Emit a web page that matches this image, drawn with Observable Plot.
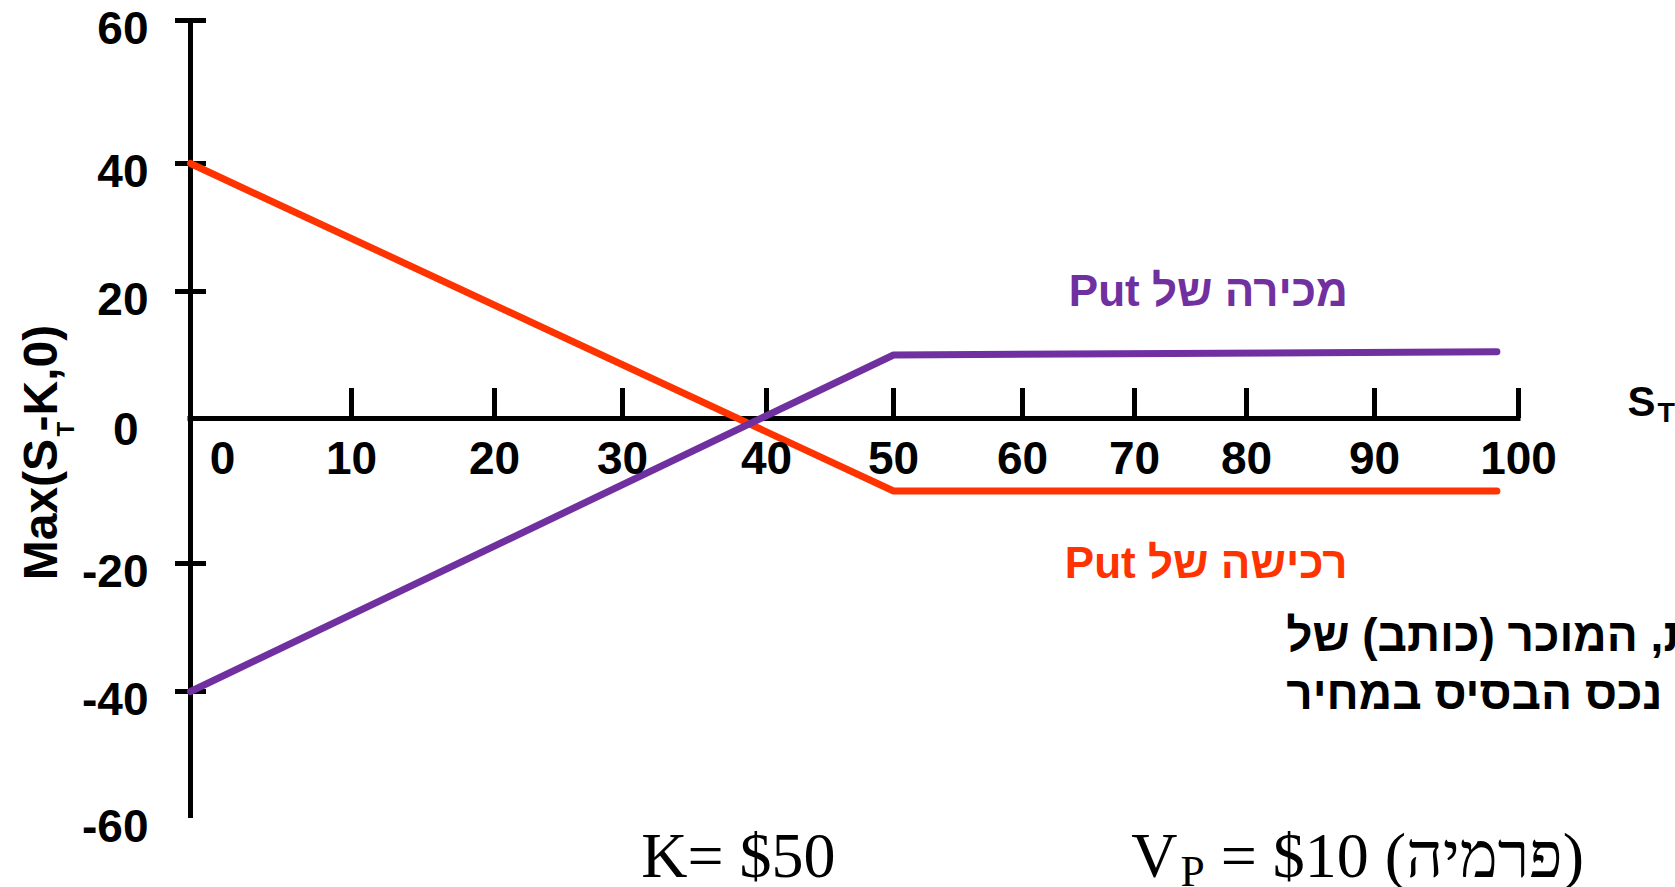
<!DOCTYPE html>
<html>
<head>
<meta charset="utf-8">
<script src="https://cdn.jsdelivr.net/npm/d3@7"></script>
<script src="https://cdn.jsdelivr.net/npm/@observablehq/plot@0.6"></script>
<style>
  html, body { margin: 0; padding: 0; background: #fff; overflow: hidden; }
  #chart svg { display: block; overflow: hidden; }
</style>
</head>
<body>
<div id="chart"></div>
<script>
// Price of the underlying at expiry (S_T) and payoff tick values
const priceTicks = [0, 10, 20, 30, 40, 50, 60, 70, 80, 90, 100];
const payoffTicks = [-60, -40, -20, 0, 20, 40, 60];
const payoffTickMarks = [60, 40, 20, -20, -40];

// Put option terms
const strike = 50;   // K
const premium = 10;  // V_P

// Long put (buyer) payoff
const longPutPrice = [0, 50, 98.5];
const longPutPayoff = [40, -10, -10];
// Short put (writer) payoff
const shortPutPrice = [0, 50, 98.5];
const shortPutPayoff = [-40, 10, 10.5];

const RED = "#FF3300";
const PURPLE = "#7030A0";
const SANS = "'Liberation Sans', Arial, sans-serif";
const SERIF = "'Liberation Serif', 'Times New Roman', serif";

const longPut = longPutPrice.map((s, i) => ({s, payoff: longPutPayoff[i]}));
const shortPut = shortPutPrice.map((s, i) => ({s, payoff: shortPutPayoff[i]}));

// The axes are hand-spaced: each tick value sits at its own position,
// so values are warped piecewise before the (pixel) linear scales.
const warpX = d3.scaleLinear(priceTicks, [190, 351, 494, 622, 766, 893, 1022, 1134, 1246, 1374, 1518]);
const warpY = d3.scaleLinear(payoffTicks, [818, 691, 563, 418, 291, 163, 20]);

const tickFont = {fontSize: 46, fontWeight: "bold", fill: "#000"};

const svg = Plot.plot({
  width: 1675,
  height: 887,
  marginLeft: 190,
  marginRight: 157,
  marginTop: 20,
  marginBottom: 69,
  style: {fontFamily: SANS, background: "#fff", color: "#000"},
  x: {axis: null, transform: warpX, domain: [0, 1675], range: [0, 1675]},
  y: {axis: null, transform: warpY, domain: [0, 887], range: [0, 887]},
  marks: [
    // axis lines
    Plot.ruleX([0], {y1: -60, y2: 60, stroke: "#000", strokeWidth: 5}),
    Plot.ruleY([0], {x1: 0, x2: 100, stroke: "#000", strokeWidth: 5, strokeLinecap: "square"}),
    // x ticks point upward from the axis
    Plot.ruleX(priceTicks.filter(d => d > 0), {x: d => d, y1: 0, y2: 0, insetTop: -30, stroke: "#000", strokeWidth: 5}),
    // y ticks straddle the axis
    Plot.ruleY(payoffTickMarks, {y: d => d, x1: 0, x2: 0, insetLeft: -15, insetRight: -16, stroke: "#000", strokeWidth: 5}),

    // payoff lines
    Plot.line(longPut, {x: "s", y: "payoff", stroke: RED, strokeWidth: 7, strokeLinejoin: "miter"}),
    Plot.line(shortPut, {x: "s", y: "payoff", stroke: PURPLE, strokeWidth: 7, strokeLinejoin: "miter"}),

    // tick labels
    Plot.text(priceTicks.filter(d => d > 0), {x: d => d, y: 0, dy: 41, text: d => String(d), ...tickFont}),
    Plot.text([0], {x: 0, y: 0, dx: 32, dy: 41, text: d => String(d), ...tickFont}),
    Plot.text(payoffTicks.filter(d => d !== 0), {x: 0, y: d => d, dx: -42, dy: 9, textAnchor: "end", text: d => String(d), ...tickFont}),
    Plot.text([0], {x: 0, y: 0, dx: -52, dy: 12, textAnchor: "end", text: d => String(d), ...tickFont}),

    // axis titles
    Plot.text(["Max(S_T-K,0)"], {frameAnchor: "left", textAnchor: "middle", dx: -149, dy: 33, rotate: -90, fontSize: 48, fontWeight: "bold", fill: "#000"}),
    Plot.text(["S_T"], {frameAnchor: "right", y: 0, dx: 109, dy: -16, textAnchor: "start", fontSize: 42, fontWeight: "bold", fill: "#000"}),

    // series labels
    Plot.text(["מכירה של Put"], {x: 76.6, y: 20, fontSize: 44, fontWeight: "bold", fill: PURPLE}),
    Plot.text(["רכישה של Put"], {x: 76.4, y: -20, fontSize: 44, fontWeight: "bold", fill: RED}),

    // explanatory note (runs off the right edge)
    Plot.text(["ת, המוכר (כותב) של"], {x: 83.1, y: -31.4, textAnchor: "end", fontSize: 46, fontWeight: "bold", fill: "#000"}),
    Plot.text(["נכס הבסיס במחיר"], {x: 83.1, y: -40.5, textAnchor: "end", fontSize: 46, fontWeight: "bold", fill: "#000"}),

    // option terms
    Plot.text([`K= $${strike}`], {x: 31.3, frameAnchor: "bottom", dy: 58, lineAnchor: "bottom", textAnchor: "start", fontFamily: SERIF, fontSize: 64, fill: "#000"}),
    Plot.text([`V_P = $${premium} (פרמיה)`], {x: 69.7, frameAnchor: "bottom", dy: 58, lineAnchor: "bottom", textAnchor: "start", fontFamily: SERIF, fontSize: 64, fill: "#000"})
  ]
});

document.getElementById("chart").appendChild(svg);

// Hebrew labels read right-to-left; "_X" marks a subscript letter
d3.select(svg).selectAll("text").each(function () {
  const t = this.textContent;
  if (/[\u0590-\u05FF]/.test(t) && !/^[A-Z]/.test(t)) this.setAttribute("direction", "rtl");
  if (t.includes("_")) {
    const fs = parseFloat(getComputedStyle(this).fontSize);
    const title = t.startsWith("Max");
    const subSize = title ? 0.5 : 0.68;
    const shift = title ? 0.36 : 0.15;
    const parts = t.split(/_(\w)/);
    this.textContent = "";
    const sel = d3.select(this);
    parts.forEach((p, i) => {
      if (!p) return;
      const ts = sel.append("tspan").text(p);
      if (i % 2 === 1) {
        ts.attr("font-size", fs * subSize).attr("dy", fs * shift).attr("dx", fs * 0.05);
      } else if (i > 0) {
        ts.attr("dy", -fs * shift);
        if (title) ts.attr("dx", -fs * 0.2);
      }
    });
  }
});
</script>
</body>
</html>
